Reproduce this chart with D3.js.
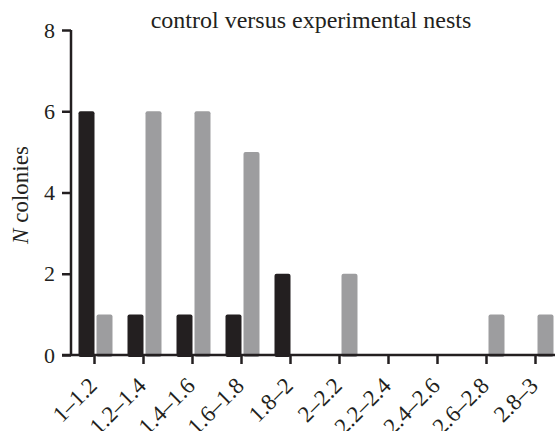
<!DOCTYPE html>
<html>
<head>
<meta charset="utf-8">
<script src="https://cdn.jsdelivr.net/npm/d3@7"></script>
<style>
  body { margin: 0; background: #fff; }
  svg { display: block; }
  svg text { font-family: "Liberation Serif", "Times New Roman", serif; }
</style>
</head>
<body>
<svg id="chart" width="555" height="431"></svg>
<script>
(function () {
    // bins of colony size and counts
    var bins = ["1–1.2", "1.2–1.4", "1.4–1.6", "1.6–1.8", "1.8–2", "2–2.2", "2.2–2.4", "2.4–2.6", "2.6–2.8", "2.8–3"];
    var control = [6, 1, 1, 1, 2, 0, 0, 0, 0, 0];
    var experimental = [1, 6, 6, 5, 0, 2, 0, 0, 1, 1];
    var yTicks = [0, 2, 4, 6, 8];

    var ink = "#231f20", grey = "#9d9d9f";
    var svg = d3.select("#chart");

    var x = d3.scaleBand().domain(bins).range([70, 560]);
    var y = d3.scaleLinear().domain([0, 8]).range([355, 30]);

    var barW = 16, gap = 2;

    function toBars(vals) {
        return vals.map(function (v, i) { return { v: v, b: bins[i] }; })
            .filter(function (d) { return d.v > 0; });
    }

    // control bars (dark) end at the tick, experimental (grey) start just after
    svg.append("g").selectAll("rect")
        .data(toBars(control))
        .join("rect")
        .attr("x", function (d) { return x(d.b) + x.bandwidth() / 2 - barW; })
        .attr("y", function (d) { return y(d.v); })
        .attr("width", barW)
        .attr("height", function (d) { return y(0) - y(d.v) + 2; })
        .attr("rx", 2)
        .attr("fill", ink);

    svg.append("g").selectAll("rect")
        .data(toBars(experimental))
        .join("rect")
        .attr("x", function (d) { return x(d.b) + x.bandwidth() / 2 + gap; })
        .attr("y", function (d) { return y(d.v); })
        .attr("width", barW)
        .attr("height", function (d) { return y(0) - y(d.v) + 2; })
        .attr("rx", 2)
        .attr("fill", grey);

    // y axis
    var yAxis = svg.append("g")
        .attr("transform", "translate(71,0)")
        .call(d3.axisLeft(y).tickValues(yTicks).tickSize(9).tickPadding(7));
    yAxis.attr("font-family", null);
    yAxis.selectAll("path, line").attr("stroke", ink).attr("stroke-width", 2.5);
    yAxis.select(".domain").attr("d", "M0," + y(8) + "V" + y(0));
    yAxis.selectAll("text").attr("font-size", 22).attr("fill", ink);

    // x axis
    var xAxis = svg.append("g")
        .attr("transform", "translate(0," + y(0) + ")")
        .call(d3.axisBottom(x).tickSize(9));
    xAxis.attr("font-family", null);
    xAxis.selectAll("path, line").attr("stroke", ink).attr("stroke-width", 2.5);
    xAxis.select(".domain").attr("d", "M62,0H555");
    xAxis.selectAll("text")
        .attr("font-size", 23)
        .attr("fill", ink)
        .attr("text-anchor", "end")
        .attr("y", 0)
        .attr("dy", 0)
        .attr("transform", "translate(4,32) rotate(-45)");

    // title
    svg.append("text")
        .attr("x", 311)
        .attr("y", 28)
        .attr("text-anchor", "middle")
        .attr("font-size", 24)
        .attr("fill", ink)
        .text("control versus experimental nests");

    // y label
    var yl = svg.append("text")
        .attr("transform", "translate(28,195) rotate(-90)")
        .attr("text-anchor", "middle")
        .attr("font-size", 23)
        .attr("fill", ink);
    yl.append("tspan").attr("font-style", "italic").text("N");
    yl.append("tspan").text(" colonies");
})();
</script>
</body>
</html>
